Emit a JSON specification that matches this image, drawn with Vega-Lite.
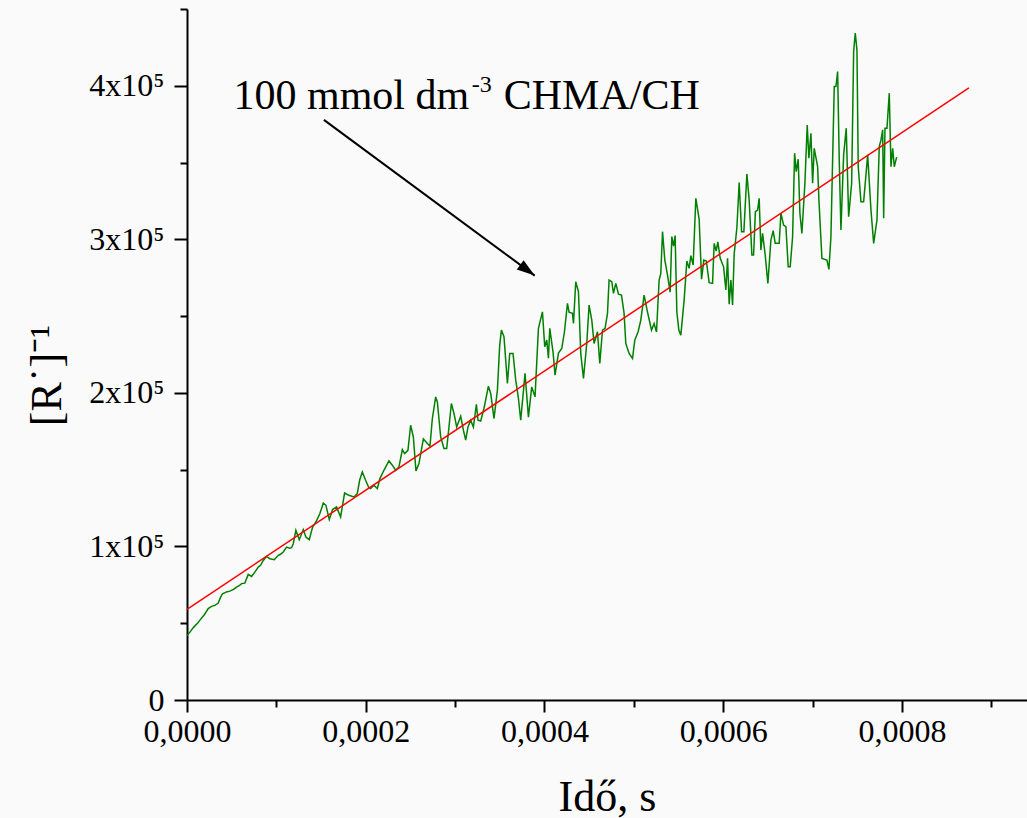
{
"$schema": "https://vega.github.io/schema/vega-lite/v6.json",
"width": 840, "height": 691,
"autosize": {"type": "none"},
"padding": {"left": 187, "top": 9, "right": 0, "bottom": 118},
"background": "#fafafa",
"config": {"view": {"stroke": null}, "axis": {"grid": false}},
"datasets": {
"green": [
{"t":0,"y":42000},{"t":3.92e-6,"y":44700},{"t":7.28e-6,"y":47300},{"t":11.76e-6,"y":49900},{"t":15.12e-6,"y":52500},{"t":19.60e-6,"y":55700},{"t":23.74e-6,"y":59500},{"t":27.44e-6,"y":61000},{"t":31.13e-6,"y":61600},{"t":34.94e-6,"y":63100},{"t":37.51e-6,"y":66800},{"t":39.75e-6,"y":69200},{"t":44.23e-6,"y":70400},{"t":47.93e-6,"y":70900},{"t":52.07e-6,"y":72000},{"t":55.43e-6,"y":73500},{"t":58.79e-6,"y":74600},{"t":61.03e-6,"y":75800},{"t":64.72e-6,"y":76100},{"t":68.53e-6,"y":81800},{"t":72.23e-6,"y":80500},{"t":75.92e-6,"y":83300},{"t":79.73e-6,"y":86600},{"t":82.31e-6,"y":87700},{"t":85.33e-6,"y":90900},{"t":89.02e-6,"y":93500},{"t":92.72e-6,"y":92000},{"t":97.65e-6,"y":91400},{"t":102.13e-6,"y":94200},{"t":104.70e-6,"y":94900},{"t":107.72e-6,"y":96400},{"t":111.42e-6,"y":99600},{"t":114.78e-6,"y":98800},{"t":117.02e-6,"y":99200},{"t":118.92e-6,"y":101800},{"t":121.83e-6,"y":110500},{"t":125.64e-6,"y":104400},{"t":130.12e-6,"y":111000},{"t":133.03e-6,"y":106100},{"t":136.84e-6,"y":104400},{"t":140.53e-6,"y":112600},{"t":144.23e-6,"y":115900},{"t":148.71e-6,"y":121400},{"t":152.52e-6,"y":128300},{"t":155.43e-6,"y":126800},{"t":159.24e-6,"y":117500},{"t":162.93e-6,"y":124000},{"t":167.41e-6,"y":125700},{"t":171.89e-6,"y":119200},{"t":176.37e-6,"y":134800},{"t":181.18e-6,"y":133300},{"t":186.78e-6,"y":132200},{"t":190.59e-6,"y":134400},{"t":193.17e-6,"y":143100},{"t":196.19e-6,"y":148500},{"t":199.88e-6,"y":143100},{"t":203.24e-6,"y":138500},{"t":205.48e-6,"y":137700},{"t":209.18e-6,"y":139800},{"t":212.99e-6,"y":137700},{"t":215.90e-6,"y":144200},{"t":220.38e-6,"y":149600},{"t":225.98e-6,"y":155700},{"t":229.78e-6,"y":152900},{"t":233.48e-6,"y":149600},{"t":237.17e-6,"y":151800},{"t":240.98e-6,"y":163100},{"t":243.56e-6,"y":160500},{"t":247.25e-6,"y":162600},{"t":250.28e-6,"y":178900},{"t":253.30e-6,"y":171300},{"t":256.21e-6,"y":149200},{"t":259.57e-6,"y":154000},{"t":264.50e-6,"y":170000},{"t":268.98e-6,"y":167000},{"t":271.89e-6,"y":165300},{"t":274.57e-6,"y":183300},{"t":278.27e-6,"y":197400},{"t":280.17e-6,"y":194100},{"t":283.87e-6,"y":171300},{"t":287.56e-6,"y":163800},{"t":290.59e-6,"y":163800},{"t":293.16e-6,"y":177800},{"t":295.85e-6,"y":193100},{"t":298.76e-6,"y":186600},{"t":301.79e-6,"y":177800},{"t":306.27e-6,"y":184800},{"t":309.29e-6,"y":175700},{"t":311.86e-6,"y":169200},{"t":314.44e-6,"y":177800},{"t":317.46e-6,"y":182200},{"t":320.49e-6,"y":177800},{"t":323.85e-6,"y":192600},{"t":325.64e-6,"y":182200},{"t":328.66e-6,"y":181700},{"t":332.36e-6,"y":190000},{"t":337.29e-6,"y":204400},{"t":339.86e-6,"y":199600},{"t":343.55e-6,"y":183300},{"t":347.36e-6,"y":201800},{"t":349.94e-6,"y":231100},{"t":351.84e-6,"y":240900},{"t":354.75e-6,"y":236500},{"t":358.56e-6,"y":206100},{"t":361.14e-6,"y":225700},{"t":364.83e-6,"y":225700},{"t":367.86e-6,"y":208300},{"t":370.88e-6,"y":196500},{"t":373.46e-6,"y":182200},{"t":378.27e-6,"y":212700},{"t":382.08e-6,"y":184200},{"t":385.77e-6,"y":203900},{"t":389.47e-6,"y":197400},{"t":393.27e-6,"y":242000},{"t":397.75e-6,"y":252800},{"t":400.33e-6,"y":230000},{"t":402.57e-6,"y":234400},{"t":404.47e-6,"y":222600},{"t":405.93e-6,"y":242000},{"t":409.62e-6,"y":226500},{"t":411.86e-6,"y":211500},{"t":415.67e-6,"y":225900},{"t":419.37e-6,"y":228900},{"t":422.39e-6,"y":239800},{"t":425.75e-6,"y":258300},{"t":427.54e-6,"y":252600},{"t":431.35e-6,"y":251800},{"t":432.47e-6,"y":245200},{"t":435.04e-6,"y":272400},{"t":438.07e-6,"y":265800},{"t":440.64e-6,"y":225700},{"t":443.66e-6,"y":209400},{"t":447.36e-6,"y":232200},{"t":449.94e-6,"y":257200},{"t":452.96e-6,"y":247400},{"t":455.53e-6,"y":232200},{"t":459.34e-6,"y":239800},{"t":461.92e-6,"y":219200},{"t":464.94e-6,"y":240900},{"t":467.85e-6,"y":242000},{"t":470.54e-6,"y":251800},{"t":472.33e-6,"y":273500},{"t":475.35e-6,"y":272400},{"t":477.26e-6,"y":264800},{"t":479.83e-6,"y":271300},{"t":482.86e-6,"y":264300},{"t":486.22e-6,"y":263700},{"t":489.13e-6,"y":251800},{"t":491.03e-6,"y":232200},{"t":494.73e-6,"y":225700},{"t":498.53e-6,"y":222400},{"t":501.11e-6,"y":234400},{"t":504.81e-6,"y":239800},{"t":507.83e-6,"y":247400},{"t":511.52e-6,"y":263700},{"t":515.33e-6,"y":252600},{"t":519.81e-6,"y":240900},{"t":522.72e-6,"y":245200},{"t":525.41e-6,"y":239600},{"t":528.32e-6,"y":273500},{"t":530.22e-6,"y":277800},{"t":532.13e-6,"y":305000},{"t":534.71e-6,"y":286500},{"t":537.73e-6,"y":276700},{"t":540.64e-6,"y":265600},{"t":542.54e-6,"y":301800},{"t":544.45e-6,"y":295600},{"t":546.24e-6,"y":302500},{"t":548.14e-6,"y":252800},{"t":550.38e-6,"y":240900},{"t":552.62e-6,"y":237600},{"t":556.32e-6,"y":260400},{"t":559.34e-6,"y":285900},{"t":561.92e-6,"y":281100},{"t":563.82e-6,"y":289400},{"t":566.39e-6,"y":283300},{"t":569.42e-6,"y":326700},{"t":573.11e-6,"y":313200},{"t":575.80e-6,"y":274100},{"t":578.38e-6,"y":286500},{"t":581.18e-6,"y":285900},{"t":584.31e-6,"y":271800},{"t":588.12e-6,"y":271300},{"t":589.91e-6,"y":297400},{"t":592.15e-6,"y":292400},{"t":594.05e-6,"y":298400},{"t":596.63e-6,"y":287800},{"t":600.44e-6,"y":282100},{"t":603.01e-6,"y":267000},{"t":604.92e-6,"y":287600},{"t":606.71e-6,"y":257800},{"t":608.61e-6,"y":273500},{"t":610.52e-6,"y":257200},{"t":612.31e-6,"y":290400},{"t":615.33e-6,"y":307400},{"t":617.91e-6,"y":337000},{"t":620.59e-6,"y":305000},{"t":623.17e-6,"y":305000},{"t":626.53e-6,"y":342600},{"t":629.10e-6,"y":325600},{"t":632.13e-6,"y":289800},{"t":634.03e-6,"y":289800},{"t":636.05e-6,"y":318000},{"t":638.51e-6,"y":319100},{"t":640.30e-6,"y":326700},{"t":642.21e-6,"y":293000},{"t":644.11e-6,"y":303900},{"t":647.02e-6,"y":289800},{"t":650.04e-6,"y":271300},{"t":653.40e-6,"y":299500},{"t":655.98e-6,"y":305600},{"t":658.22e-6,"y":297400},{"t":662.70e-6,"y":297400},{"t":664.60e-6,"y":317000},{"t":667.62e-6,"y":309300},{"t":670.20e-6,"y":308200},{"t":672.78e-6,"y":282100},{"t":675.02e-6,"y":282100},{"t":677.70e-6,"y":301700},{"t":679.94e-6,"y":356100},{"t":681.73e-6,"y":344100},{"t":683.97e-6,"y":352200},{"t":685.87e-6,"y":317000},{"t":688.11e-6,"y":303900},{"t":691.47e-6,"y":336500},{"t":694.05e-6,"y":374500},{"t":695.95e-6,"y":352800},{"t":698.20e-6,"y":369100},{"t":700.10e-6,"y":336500},{"t":701.89e-6,"y":359300},{"t":705.70e-6,"y":347300},{"t":707.15e-6,"y":325600},{"t":710.51e-6,"y":287600},{"t":716.11e-6,"y":286500},{"t":718.35e-6,"y":280400},{"t":720.59e-6,"y":301700},{"t":724.29e-6,"y":399500},{"t":726.19e-6,"y":399500},{"t":728.09e-6,"y":409300},{"t":729.89e-6,"y":351700},{"t":731.79e-6,"y":306100},{"t":734.81e-6,"y":355000},{"t":737.72e-6,"y":372400},{"t":740.41e-6,"y":314700},{"t":743.77e-6,"y":336500},{"t":746.01e-6,"y":422300},{"t":747.80e-6,"y":434300},{"t":749.71e-6,"y":423400},{"t":751.16e-6,"y":347300},{"t":754.18e-6,"y":324500},{"t":757.21e-6,"y":324500},{"t":761.69e-6,"y":355000},{"t":765.38e-6,"y":319100},{"t":768.41e-6,"y":297400},{"t":772.10e-6,"y":312600},{"t":774.68e-6,"y":360400},{"t":776.58e-6,"y":364700},{"t":778.48e-6,"y":371300},{"t":779.60e-6,"y":313700},{"t":781.06e-6,"y":372400},{"t":783.30e-6,"y":372400},{"t":785.88e-6,"y":395200},{"t":787.78e-6,"y":347300},{"t":789.68e-6,"y":359300},{"t":791.47e-6,"y":347300},{"t":794.16e-6,"y":353500}
],
"fit": [{"t":0,"y":59000},{"t":875e-6,"y":398600}],
"arrow": [{"t":153.2e-6,"y":377800,"t2":389.1e-6,"y2":276400}],
"label": [{"t":52.07e-6,"y":384900,"text":"100 mmol dm"},{"t":354.4e-6,"y":384900,"text":"CHMA/CH"}],
"sup": [{"t":318.6e-6,"y":396000,"text":"-3"}]
},
"resolve": {"axis": {"x": "independent", "y": "independent"}},
"layer": [
{"data": {"name": "green"},
 "mark": {"type": "line", "color": "#008000", "strokeWidth": 1.5},
 "encoding": {
  "x": {"field": "t", "type": "quantitative", "scale": {"domain": [0, 0.00094], "nice": false, "zero": false},
   "axis": {"orient": "bottom", "values": [0, 0.0002, 0.0004, 0.0006, 0.0008], "labelExpr": "replace(format(datum.value, '.4f'), '.', ',')",
    "labelFont": "Liberation Serif", "labelFontSize": 32, "labelColor": "black", "labelFlush": false, "labelOverlap": false, "labelPadding": 4,
    "tickSize": 12, "tickWidth": 2, "tickColor": "black", "domainColor": "black", "domainWidth": 2,
    "title": "Idő, s", "titleFont": "Liberation Serif", "titleFontSize": 44, "titleFontWeight": "normal", "titleColor": "black",
    "titleBaseline": "alphabetic", "titleY": 110}},
  "y": {"field": "y", "type": "quantitative", "scale": {"domain": [0, 450000], "nice": false, "zero": false},
   "axis": {"orient": "left", "values": [0, 100000, 200000, 300000, 400000], "labelExpr": "datum.value == 0 ? '0' : format(datum.value / 100000, 'd') + 'x10⁵'",
    "labelFont": "Liberation Serif", "labelFontSize": 32, "labelColor": "black", "labelFlush": false, "labelOverlap": false, "labelPadding": 10,
    "tickSize": 13, "tickWidth": 2, "tickColor": "black", "domainColor": "black", "domainWidth": 2,
    "title": "[R˙]⁻¹", "titleFont": "Liberation Serif", "titleFontSize": 44, "titleFontWeight": "normal", "titleColor": "black",
    "titleAngle": -90, "titleAlign": "center", "titleBaseline": "alphabetic", "titleX": -127, "titleY": 366}}
 }},
{"data": {"name": "fit"},
 "mark": {"type": "line", "color": "#ff0000", "strokeWidth": 1.5},
 "encoding": {
  "x": {"field": "t", "type": "quantitative", "scale": {"domain": [0, 0.00094], "nice": false, "zero": false},
   "axis": {"orient": "bottom", "values": [0.0001, 0.0003, 0.0005, 0.0007, 0.0009], "labels": false, "domain": false, "tickSize": 7, "tickWidth": 2, "tickColor": "black", "title": null}},
  "y": {"field": "y", "type": "quantitative", "scale": {"domain": [0, 450000], "nice": false, "zero": false},
   "axis": {"orient": "left", "values": [50000, 150000, 250000, 350000, 450000], "labels": false, "domain": false, "tickSize": 7, "tickWidth": 2, "tickColor": "black", "title": null}}
 }},
{"data": {"name": "arrow"},
 "mark": {"type": "rule", "color": "black", "strokeWidth": 2},
 "encoding": {
  "x": {"field": "t", "type": "quantitative", "scale": {"domain": [0, 0.00094], "nice": false, "zero": false}, "axis": null},
  "y": {"field": "y", "type": "quantitative", "scale": {"domain": [0, 450000], "nice": false, "zero": false}, "axis": null},
  "x2": {"field": "t2"}, "y2": {"field": "y2"}
 }},
{"data": {"name": "arrow"},
 "mark": {"type": "point", "shape": "M0,0L0.32,1L-0.32,1Z", "filled": true, "color": "black", "opacity": 1, "size": 1300, "angle": 126.4, "strokeWidth": 0},
 "encoding": {
  "x": {"field": "t2", "type": "quantitative", "scale": {"domain": [0, 0.00094], "nice": false, "zero": false}, "axis": null},
  "y": {"field": "y2", "type": "quantitative", "scale": {"domain": [0, 450000], "nice": false, "zero": false}, "axis": null}
 }},
{"data": {"name": "label"},
 "mark": {"type": "text", "font": "Liberation Serif", "fontSize": 42, "align": "left", "baseline": "alphabetic", "color": "black"},
 "encoding": {
  "x": {"field": "t", "type": "quantitative", "scale": {"domain": [0, 0.00094], "nice": false, "zero": false}, "axis": null},
  "y": {"field": "y", "type": "quantitative", "scale": {"domain": [0, 450000], "nice": false, "zero": false}, "axis": null},
  "text": {"field": "text"}
 }},
{"data": {"name": "sup"},
 "mark": {"type": "text", "font": "Liberation Serif", "fontSize": 24, "align": "left", "baseline": "alphabetic", "color": "black"},
 "encoding": {
  "x": {"field": "t", "type": "quantitative", "scale": {"domain": [0, 0.00094], "nice": false, "zero": false}, "axis": null},
  "y": {"field": "y", "type": "quantitative", "scale": {"domain": [0, 450000], "nice": false, "zero": false}, "axis": null},
  "text": {"field": "text"}
 }}
]
}
